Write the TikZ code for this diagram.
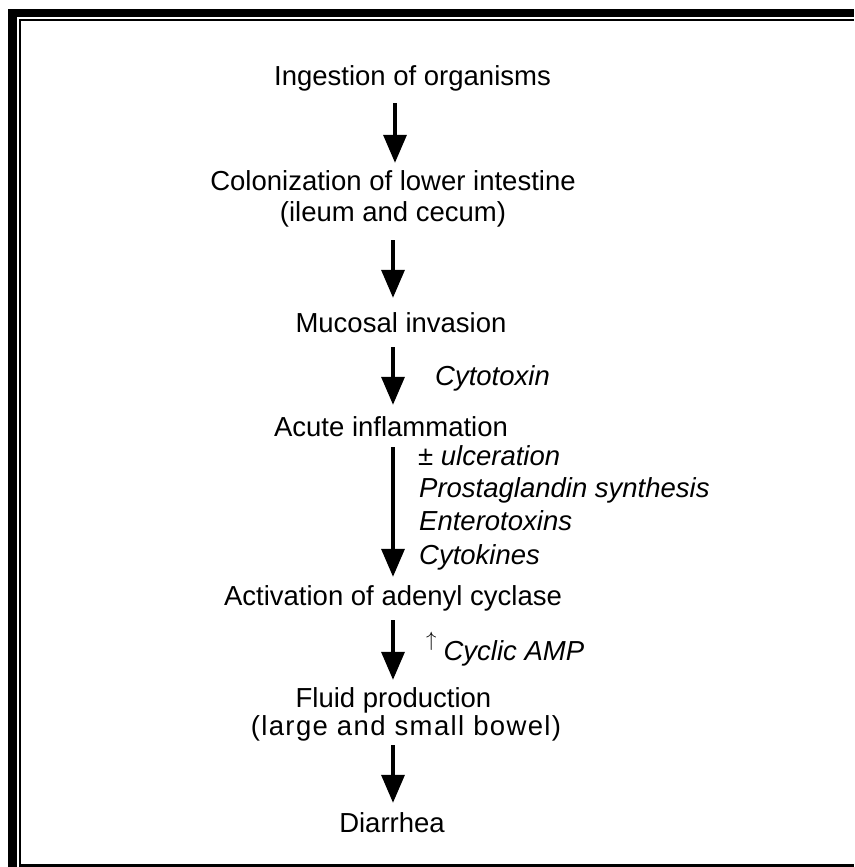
\documentclass[tikz,border=0pt]{standalone}
\usepackage{fontspec}
\setmainfont{Liberation Sans}
\usetikzlibrary{arrows.meta}
\begin{document}
\begin{tikzpicture}[x=1pt,y=-1pt,
  lbl/.style={inner sep=0pt, font=\fontsize{27.5}{30}\selectfont, text height=20pt, text depth=6pt, anchor=base},
  note/.style={lbl, anchor=base west, font=\fontsize{27.5}{30}\selectfont\itshape},
  flow/.style={line width=3.5pt, -{Triangle[width=23pt,length=28pt]}},
  framebar/.style={fill=black, draw=none}]
\useasboundingbox (0,0) rectangle (854,867);
% frame
\fill[framebar] (8,9) rectangle (17,867);
\fill[framebar] (8,9) rectangle (854,17);
\fill[framebar] (19,19) rectangle (21,867);
\fill[framebar] (19,19) rectangle (854,21);
\fill[framebar] (19,864) rectangle (854,867);
% axis of the arrows
\coordinate (axA) at (395,0);
\coordinate (axB) at (393,0);
% steps
\node[lbl] (ing) at (412.5,85) {Ingestion of organisms};
\node[lbl] (col1) at (393,190) {Colonization of lower intestine};
\node[lbl] (col2) at (393,221) {(ileum and cecum)};
\node[lbl] (muc) at (401,332) {Mucosal invasion};
\node[lbl] (acu) at (391,436) {Acute inflammation};
\node[lbl] (act) at (393,605) {Activation of adenyl cyclase};
\node[lbl] (flu1) at (393.5,707) {Fluid production};
\node[lbl] (flu2) at (406,735) {\addfontfeature{LetterSpace=5}(large and small bowel)};
\node[lbl] (dia) at (392,832) {Diarrhea};
% side notes
\node[note] (cyt) at (435,385) {Cytotoxin};
\node[note] (ulc) at (418,465) {± ulceration};
\node[note] (pro) at (419,497) {Prostaglandin synthesis};
\node[note] (ent) at (419,530) {Enterotoxins};
\node[note] (cyk) at (419,564) {Cytokines};
\node[note] (amp) at (426,660) {\raisebox{14pt}{\fontsize{22}{22}\selectfont$\uparrow$}\hspace{7pt}Cyclic AMP};
% arrows
\draw[flow, shorten <=12pt, shorten >=7pt] (ing.south -| axA) -- (col1.north -| axA);
\draw[flow, shorten <=13pt, shorten >=14pt] (col2.south -| axB) -- (muc.north -| axB);
\draw[flow, shorten <=9pt, shorten >=11pt] (muc.south -| axB) -- (acu.north -| axB);
\draw[flow, shorten <=5pt, shorten >=8pt] (acu.south -| axB) -- (act.north -| axB);
\draw[flow, shorten <=9pt, shorten >=7pt] (act.south -| axB) -- (flu1.north -| axB);
\draw[flow, shorten <=4pt, shorten >=9pt] (flu2.south -| axB) -- (dia.north -| axB);
\end{tikzpicture}
\end{document}
